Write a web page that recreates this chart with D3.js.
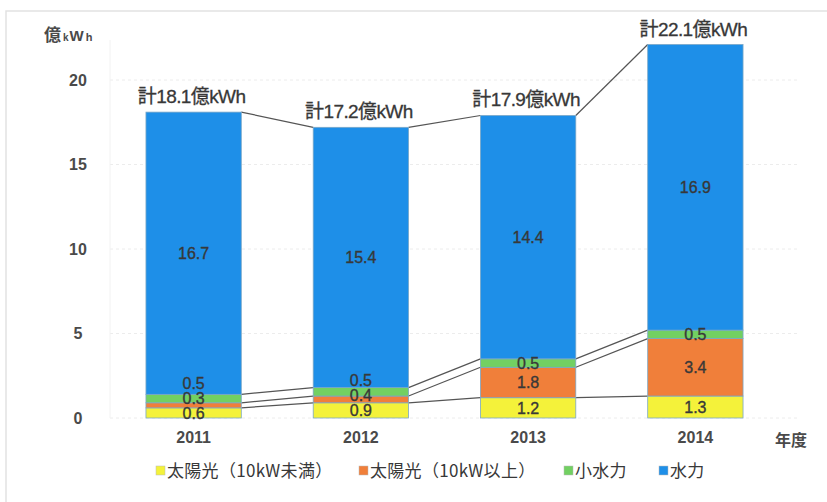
<!DOCTYPE html>
<html>
<head>
<meta charset="utf-8">
<script src="https://cdn.jsdelivr.net/npm/d3@7"></script>
<style>
  body { margin: 0; background: #fff; }
  svg text { font-family: "Liberation Sans", Arial, "Noto Sans CJK JP", sans-serif; fill: #383838; }
  .jp { font-family: "Noto Sans CJK JP", sans-serif; }
</style>
</head>
<body>
<svg width="827" height="502"></svg>
<script>
// stacked generation by year, unit: 億kWh
const years = ['2011', '2012', '2013', '2014'];
const seriesNames = ['太陽光（10kW未満）', '太陽光（10kW以上）', '小水力', '水力'];
const solarSmall = [0.6, 0.9, 1.2, 1.3];
const solarLarge = [0.3, 0.4, 1.8, 3.4];
const smallHydro = [0.5, 0.5, 0.5, 0.5];
const hydro = [16.7, 15.4, 14.4, 16.9];
const totals = [18.1, 17.2, 17.9, 22.1];
const yTicks = [0, 5, 10, 15, 20];
const colors = ['#f4f23a', '#f07f3a', '#72d062', '#1e8fe8'];

const svg = d3.select('svg');
const W = 827, H = 502;
const x = d3.scaleBand().domain(years).range([110, 779]).paddingInner(0.43).paddingOuter(0.215);
const y = d3.scaleLinear().domain([0, 20]).range([418, 80]);

// frame
svg.append('path').attr('d', `M6,${H} V11 H${W}`).attr('fill', 'none').attr('stroke', '#e2e2e2').attr('stroke-width', 1.5);

// gridlines
svg.append('g').selectAll('line').data(yTicks).join('line')
  .attr('x1', 110).attr('x2', 800).attr('y1', d => y(d)).attr('y2', d => y(d))
  .attr('stroke', '#ececec').attr('stroke-dasharray', '3,3');
svg.append('line').attr('x1', 110).attr('x2', 110).attr('y1', 40).attr('y2', 418).attr('stroke', '#f2f2f2');

// y axis labels
const yAxis = svg.append('g').attr('transform', 'translate(88,0)')
  .call(d3.axisLeft(y).tickValues(yTicks).tickSize(0).tickPadding(0));
yAxis.select('.domain').remove();
yAxis.selectAll('text').attr('font-size', 16).attr('font-weight', 'bold').attr('text-anchor', 'middle').attr('dx', -10).attr('font-family', '"Liberation Sans", Arial, sans-serif').style('fill', '#4a4a4a');
const unit = svg.append('text').attr('x', 44).attr('y', 41).attr('font-weight', 'bold').style('fill', '#4a4a4a');
unit.append('tspan').attr('class', 'jp').attr('font-size', 17).text('億');
unit.append('tspan').attr('font-size', 10).attr('dx', 2).text('k');
unit.append('tspan').attr('font-size', 15).attr('dx', 1).text('W');
unit.append('tspan').attr('font-size', 11).attr('dx', 2).text('h');

// x axis labels
const xAxis = svg.append('g').attr('transform', 'translate(0,418)')
  .call(d3.axisBottom(x).tickSize(0).tickPadding(14));
xAxis.select('.domain').remove();
xAxis.selectAll('text').attr('font-size', 16).attr('font-weight', 'bold').attr('font-family', '"Liberation Sans", Arial, sans-serif').style('fill', '#4a4a4a');
svg.append('text').attr('class', 'jp').attr('x', 775).attr('y', 446).attr('font-size', 16).attr('font-weight', 'bold').style('fill', '#4a4a4a').text('年度');

// stack
const rows = years.map((yr, i) => ({ year: yr, s0: solarSmall[i], s1: solarLarge[i], s2: smallHydro[i], s3: hydro[i] }));
const stack = d3.stack().keys(['s0', 's1', 's2', 's3'])(rows);

// series lines between bars
const bw = x.bandwidth();
stack.forEach(layer => {
  for (let i = 0; i < years.length - 1; i++) {
    svg.append('line')
      .attr('x1', x(years[i]) + bw).attr('y1', y(layer[i][1]))
      .attr('x2', x(years[i + 1])).attr('y2', y(layer[i + 1][1]))
      .attr('stroke', '#555').attr('stroke-width', 1.2);
  }
});

// bars
stack.forEach((layer, k) => {
  svg.append('g').selectAll('rect').data(layer).join('rect')
    .attr('x', d => x(d.data.year)).attr('width', bw)
    .attr('y', d => y(d[1])).attr('height', d => y(d[0]) - y(d[1]))
    .attr('fill', colors[k]).attr('stroke', '#7aa7c7').attr('stroke-width', 0.8);
});

// segment labels, pushed apart when crowded
years.forEach((yr, i) => {
  let prev = Infinity;
  stack.forEach(layer => {
    const d = layer[i];
    let cy = y((d[0] + d[1]) / 2);
    if (cy > prev - 15) cy = prev - 15;
    prev = cy;
    svg.append('text').attr('x', x(yr) + bw / 2).attr('y', cy).attr('dy', '0.36em')
      .attr('text-anchor', 'middle').attr('font-size', 16)
      .attr('stroke', '#383838').attr('stroke-width', 0.35)
      .text((d[1] - d[0]).toFixed(1));
  });
});

// totals
years.forEach((yr, i) => {
  const t = svg.append('text').attr('x', x(yr) + bw / 2 - 2).attr('y', y(totals[i]) - 9)
    .attr('text-anchor', 'middle').attr('font-size', 19).attr('letter-spacing', -0.6)
    .attr('stroke', '#383838').attr('stroke-width', 0.3);
  t.append('tspan').attr('class', 'jp').text('計');
  t.append('tspan').text(totals[i].toFixed(1));
  t.append('tspan').attr('class', 'jp').text('億');
  t.append('tspan').text('kWh');
});

// legend
const legX = [156, 359, 564, 659];
const leg = svg.append('g').selectAll('g').data(seriesNames).join('g')
  .attr('transform', (d, i) => `translate(${legX[i]},472)`);
leg.append('rect').attr('x', 0).attr('y', -6).attr('width', 9).attr('height', 9)
  .attr('fill', (d, i) => colors[i]).attr('stroke', '#bbb').attr('stroke-width', 0.5);
leg.append('text').attr('class', 'jp').attr('x', 11).attr('y', 0).attr('dy', '0.3em')
  .attr('font-size', 17).attr('letter-spacing', 0.3).text(d => d);
</script>
</body>
</html>
